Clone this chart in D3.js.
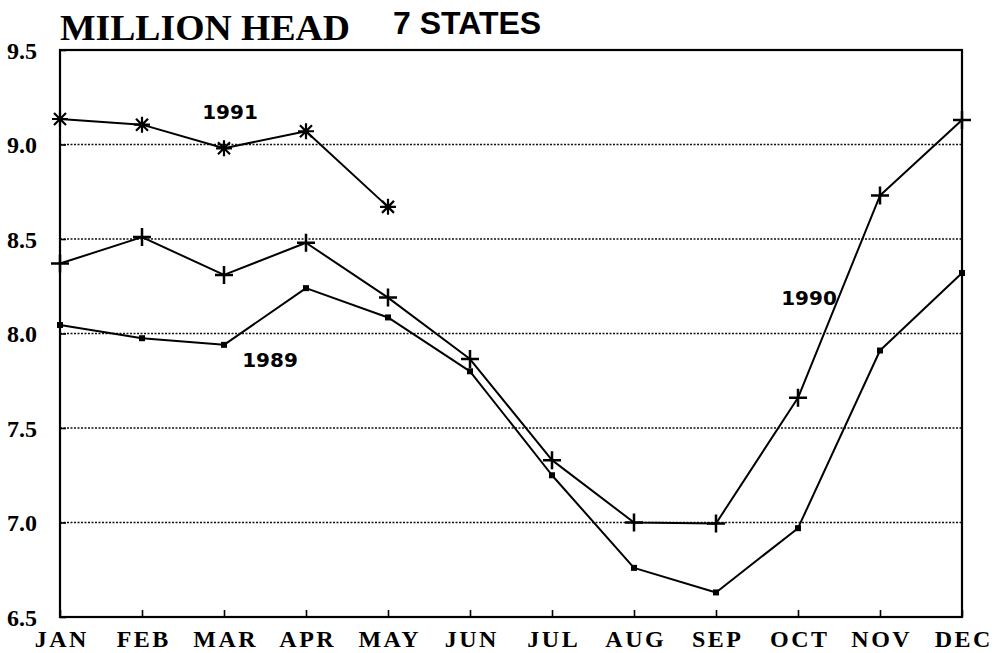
<!DOCTYPE html>
<html><head><meta charset="utf-8">
<script src="https://cdn.jsdelivr.net/npm/d3@7"></script>
<style>
html,body{margin:0;padding:0;background:#fff;}
svg{display:block;}
</style></head>
<body>
<svg id="chart" width="996" height="653"></svg>
<script>
const months = ["JAN","FEB","MAR","APR","MAY","JUN","JUL","AUG","SEP","OCT","NOV","DEC"];
const yTicks = [6.5, 7.0, 7.5, 8.0, 8.5, 9.0, 9.5];
const gridValues = [7.0, 7.5, 8.0, 8.5, 9.0];
const values1989 = [8.045, 7.975, 7.94, 8.24, 8.085, 7.80, 7.25, 6.76, 6.63, 6.97, 7.91, 8.32];
const values1990 = [8.37, 8.51, 8.31, 8.48, 8.19, 7.865, 7.33, 7.0, 6.995, 7.66, 8.73, 9.13];
const values1991 = [9.135, 9.105, 8.98, 9.07, 8.67];
const seriesLabels = [
  {text:"1991", month:"MAR", value:9.135},
  {text:"1989", month:"MAR", value:7.825},
  {text:"1990", month:"OCT", value:8.15}
];

const svg = d3.select("#chart");
const mLeft = 60, mRight = 962, mTop = 50, mBottom = 617;
const x = d3.scalePoint().domain(months).range([mLeft, mRight]);
const y = d3.scaleLinear().domain([6.5, 9.5]).range([mBottom, mTop]);
const serif = "'Liberation Serif','Times New Roman',serif";
const sans = "'DejaVu Sans',Arial,sans-serif";

// gridlines
svg.append("g").selectAll("line").data(gridValues).join("line")
  .attr("x1", mLeft).attr("x2", mRight)
  .attr("y1", d => y(d)).attr("y2", d => y(d))
  .attr("stroke", "#111").attr("stroke-width", 1.3)
  .attr("stroke-dasharray", "2,1.5");

// axes
const xAxis = svg.append("g").attr("transform", `translate(0,${mBottom})`)
  .call(d3.axisBottom(x).tickSize(-7).tickPadding(13));
xAxis.select(".domain").remove();
xAxis.selectAll("line").attr("stroke", "#000").attr("stroke-width", 1.6);
xAxis.selectAll("text").attr("font-family", serif).attr("font-weight", "bold")
  .attr("font-size", 24).attr("fill", "#000").attr("letter-spacing", "2.5px")
  .attr("dx", "1.25px");

const yAxis = svg.append("g").attr("transform", `translate(${mLeft},0)`)
  .call(d3.axisLeft(y).tickValues(yTicks).tickFormat(d3.format(".1f")).tickSize(-6).tickPadding(23));
yAxis.select(".domain").remove();
yAxis.selectAll("line").attr("stroke", "#000").attr("stroke-width", 1.6);
yAxis.selectAll("text").attr("font-family", serif).attr("font-weight", "bold")
  .attr("font-size", 24).attr("fill", "#000").attr("dy", "0.34em");

// frame
svg.append("rect").attr("x", mLeft).attr("y", mTop)
  .attr("width", mRight - mLeft).attr("height", mBottom - mTop)
  .attr("fill", "none").attr("stroke", "#000").attr("stroke-width", 2.2);

// lines
const line = d3.line().x((d, i) => x(months[i])).y(d => y(d));
[values1989, values1990, values1991].forEach(vals => {
  svg.append("path").datum(vals).attr("d", line)
    .attr("fill", "none").attr("stroke", "#000").attr("stroke-width", 2)
    .attr("stroke-linejoin", "round");
});

// markers
svg.append("g").selectAll("rect").data(values1989).join("rect")
  .attr("x", (d, i) => x(months[i]) - 3).attr("y", d => y(d) - 3)
  .attr("width", 6).attr("height", 6).attr("fill", "#000");

const plus = "M-9,0H9M0,-9V9";
svg.append("g").selectAll("path").data(values1990).join("path")
  .attr("transform", (d, i) => `translate(${x(months[i])},${y(d)})`)
  .attr("d", plus).attr("stroke", "#000").attr("stroke-width", 2.5).attr("fill", "none");

const star = "M-8,0H8M0,-8V8M-6,-6L6,6M-6,6L6,-6";
svg.append("g").selectAll("path").data(values1991).join("path")
  .attr("transform", (d, i) => `translate(${x(months[i])},${y(d)})`)
  .attr("d", star).attr("stroke", "#000").attr("stroke-width", 2.2).attr("fill", "none");

// series labels
const labelOffset = {"1991": 6, "1989": 46, "1990": 11};
svg.append("g").selectAll("text").data(seriesLabels).join("text")
  .attr("x", d => x(d.month) + labelOffset[d.text])
  .attr("y", d => y(d.value))
  .attr("text-anchor", "middle")
  .attr("font-family", sans).attr("font-weight", "bold").attr("font-size", 20)
  .attr("fill", "#000").text(d => d.text);

// titles
svg.append("text").attr("x", 60).attr("y", 40)
  .attr("font-family", serif).attr("font-weight", "bold").attr("font-size", 36)
  .attr("textLength", 290).attr("lengthAdjust", "spacingAndGlyphs")
  .attr("fill", "#000").text("MILLION HEAD");
svg.append("text").attr("x", 393).attr("y", 34)
  .attr("font-family", "'Liberation Sans',Arial,sans-serif").attr("font-weight", "bold")
  .attr("font-size", 32).attr("fill", "#000").text("7 STATES");
</script>
</body></html>
